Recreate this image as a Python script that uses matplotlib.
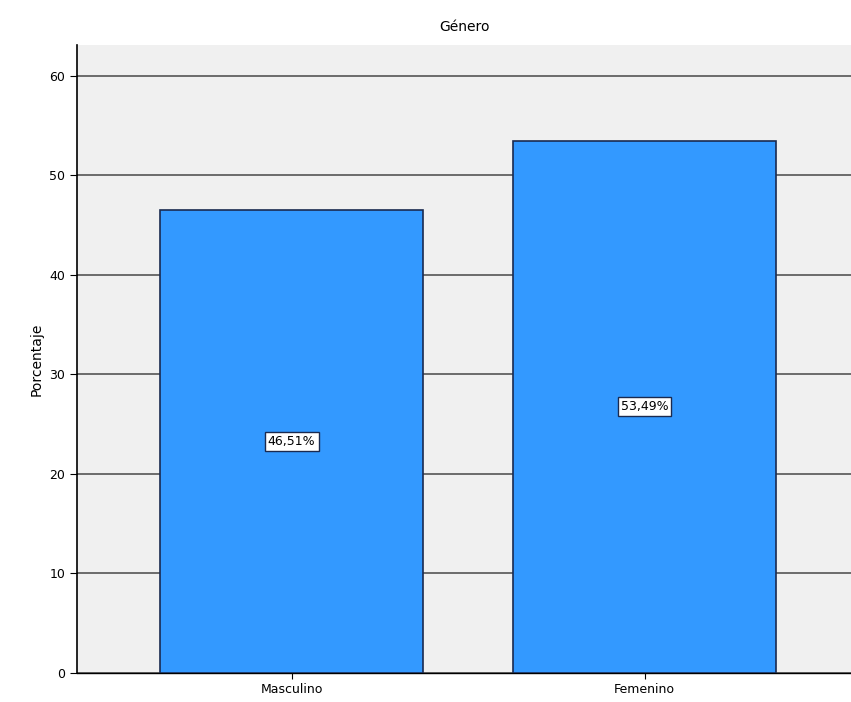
import matplotlib
matplotlib.use("Agg")
import matplotlib.pyplot as plt

categories = ["Masculino", "Femenino"]
values = [46.51, 53.49]
labels = ["46,51%", "53,49%"]
yticks = [0, 10, 20, 30, 40, 50, 60]

W, H = 851, 702
fig = plt.figure(figsize=(W / 100, H / 100), dpi=100)
ax = fig.add_axes([77 / W, (H - 673) / H, (W - 77) / W, (673 - 45) / H])
ax.set_facecolor("#f0f0f0")

x = list(range(len(categories)))
ax.bar(x, values, width=0.745, color="#3399ff", edgecolor="#1a2a50", linewidth=1.2, zorder=3)
for xi, v, lab in zip(x, values, labels):
    ax.text(xi, v / 2, lab, ha="center", va="center", fontsize=9, zorder=4,
            bbox=dict(boxstyle="square,pad=0.25", facecolor="white", edgecolor="#1a2a50", linewidth=1.0))

ax.set_xlim(-0.608, 1.585)
ax.set_ylim(0, 63.1)
ax.set_yticks(yticks)
ax.set_xticks(x)
ax.set_xticklabels(categories, fontsize=9)
ax.tick_params(axis="y", labelsize=9, length=5)
ax.tick_params(axis="x", length=4)
ax.yaxis.grid(True, color="#555555", linewidth=1.2, zorder=1)
ax.set_axisbelow(True)
for s in ["top", "right"]:
    ax.spines[s].set_visible(False)
ax.spines["left"].set_linewidth(1.2)
ax.spines["bottom"].set_linewidth(1.0)
ax.set_ylabel("Porcentaje", fontsize=10)
ax.set_title("Género", fontsize=10, pad=10)

fig.savefig("out.png", dpi=100, facecolor="white")
